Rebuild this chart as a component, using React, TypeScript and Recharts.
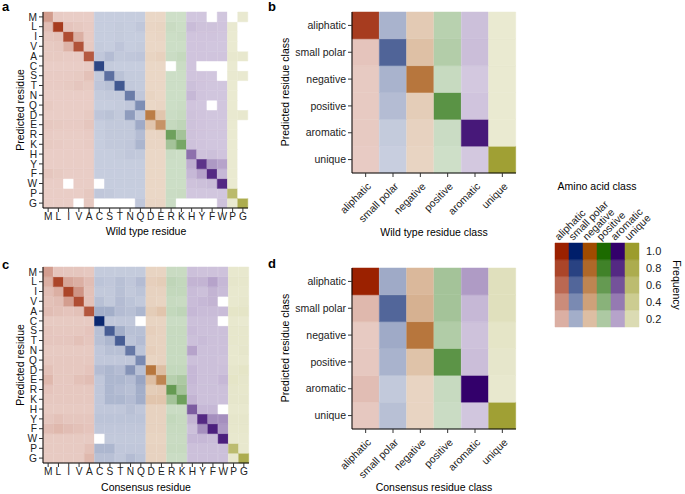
import React from 'react';
import { BarChart, Bar, Cell, XAxis, YAxis } from 'recharts';

const FONT = '"Liberation Sans", Arial, sans-serif';

// residues in plot order and the class each one belongs to
const residues = ['M', 'L', 'I', 'V', 'A', 'C', 'S', 'T', 'N', 'Q', 'D', 'E', 'R', 'K', 'H', 'Y', 'F', 'W', 'P', 'G'];
const residueClass = [0, 0, 0, 0, 0, 1, 1, 1, 1, 1, 2, 2, 3, 3, 4, 4, 4, 4, 5, 5];
const classNames = ['aliphatic', 'small polar', 'negative', 'positive', 'aromatic', 'unique'];
const classColors = ['#9b2100', '#001e6a', '#a04b00', '#1c6a00', '#33006b', '#9c9c2c'];
const legendLevels = [0.2, 0.4, 0.6, 0.8, 1.0];

const N = null;

// rows = predicted residue (top to bottom), cols = wild type residue
const wildTypeFreq = [
  [0.31, 0.04, 0.03, 0.03, 0.03, 0.03, 0.03, 0.03, 0.03, 0.03, 0.03, 0.03, 0.02, 0.02, 0.03, 0.03, N, 0.03, N, 0.03],
  [0.12, 0.85, 0.08, 0.06, 0.04, 0.03, 0.03, 0.04, 0.03, 0.06, 0.04, 0.05, 0.05, 0.03, 0.08, 0.05, 0.05, 0.04, 0.03, N],
  [0.07, 0.09, 0.75, 0.2, 0.04, 0.03, 0.03, 0.04, 0.03, 0.03, 0.03, 0.04, 0.03, 0.04, 0.04, 0.04, 0.04, 0.03, 0.02, N],
  [0.05, 0.06, 0.18, 0.72, 0.05, 0.04, 0.03, 0.07, 0.03, 0.04, 0.03, 0.03, 0.03, 0.03, 0.04, 0.04, 0.03, 0.03, 0.02, N],
  [0.05, 0.05, 0.04, 0.04, 0.68, 0.06, 0.12, 0.05, 0.06, 0.07, 0.05, 0.07, 0.04, 0.07, 0.04, 0.04, 0.04, 0.04, 0.04, 0.04],
  [0.03, 0.03, 0.03, 0.03, 0.04, 0.78, 0.04, 0.03, 0.03, 0.03, 0.03, 0.03, N, 0.04, 0.04, N, N, N, 0.02, N],
  [0.04, 0.04, 0.04, 0.05, 0.1, 0.05, 0.55, 0.09, 0.04, 0.04, 0.03, 0.03, 0.03, 0.03, 0.04, 0.04, 0.03, N, 0.03, 0.03],
  [0.04, 0.04, 0.05, 0.07, 0.05, 0.07, 0.1, 0.68, 0.05, 0.04, 0.03, 0.03, 0.03, 0.03, 0.06, 0.04, 0.03, 0.03, 0.02, N],
  [0.03, 0.03, 0.03, 0.03, 0.03, 0.04, 0.05, 0.05, 0.48, 0.06, 0.05, 0.03, 0.03, 0.03, 0.1, 0.04, 0.03, 0.03, 0.02, N],
  [0.05, 0.03, 0.03, 0.03, 0.03, 0.03, 0.03, 0.04, 0.06, 0.38, 0.03, 0.04, 0.03, 0.04, 0.04, 0.03, N, 0.03, 0.02, N],
  [0.03, 0.03, 0.03, 0.03, 0.05, 0.07, 0.09, 0.05, 0.3, 0.06, 0.65, 0.15, 0.04, 0.06, 0.05, 0.04, 0.03, 0.03, 0.03, 0.04],
  [0.06, 0.05, 0.04, 0.04, 0.07, 0.03, 0.05, 0.05, 0.05, 0.22, 0.15, 0.5, 0.07, 0.1, 0.05, 0.04, 0.03, 0.03, 0.02, N],
  [0.04, 0.03, 0.03, 0.03, 0.04, 0.03, 0.05, 0.05, 0.05, 0.12, 0.04, 0.05, 0.55, 0.25, 0.05, 0.04, 0.03, 0.03, 0.02, N],
  [0.05, 0.04, 0.03, 0.03, 0.04, 0.03, 0.05, 0.05, 0.06, 0.16, 0.04, 0.04, 0.25, 0.5, 0.05, 0.04, 0.03, 0.03, 0.02, N],
  [0.03, 0.03, 0.03, 0.03, 0.03, 0.03, 0.03, 0.04, 0.06, 0.05, 0.03, 0.03, 0.04, 0.03, 0.45, 0.05, 0.06, 0.04, 0.02, N],
  [0.03, 0.03, 0.03, 0.03, 0.03, 0.03, 0.03, 0.03, 0.03, 0.03, 0.03, 0.03, 0.03, 0.03, 0.15, 0.75, 0.25, 0.2, 0.02, N],
  [0.07, 0.05, 0.03, 0.03, 0.03, 0.03, 0.03, 0.03, 0.03, 0.03, 0.03, 0.03, 0.03, 0.03, 0.1, 0.2, 0.8, 0.1, 0.02, N],
  [0.03, 0.03, N, 0.03, 0.03, N, 0.03, 0.03, 0.03, 0.03, 0.03, 0.03, 0.03, 0.03, 0.05, 0.06, 0.08, 0.8, 0.02, N],
  [0.03, 0.03, 0.03, 0.03, 0.06, 0.06, 0.05, 0.03, 0.03, 0.03, 0.03, 0.03, 0.04, 0.05, 0.03, 0.03, 0.03, 0.03, 0.62, N],
  [0.03, 0.03, 0.03, N, 0.06, N, N, N, N, 0.06, 0.04, 0.04, 0.04, N, N, N, N, 0.05, 0.03, 0.8],
];

// rows = predicted residue, cols = consensus residue
const consensusFreq = [
  [0.3, 0.08, 0.07, 0.07, 0.06, 0.04, 0.04, 0.04, 0.04, 0.04, 0.05, 0.05, 0.05, 0.05, 0.06, 0.05, 0.05, 0.05, 0.04, 0.04],
  [0.2, 0.8, 0.25, 0.2, 0.12, 0.08, 0.06, 0.1, 0.06, 0.12, 0.08, 0.1, 0.1, 0.08, 0.12, 0.12, 0.2, 0.1, 0.06, 0.05],
  [0.12, 0.2, 0.8, 0.35, 0.1, 0.05, 0.05, 0.1, 0.05, 0.08, 0.06, 0.06, 0.08, 0.08, 0.08, 0.06, 0.12, 0.08, 0.04, 0.04],
  [0.1, 0.12, 0.3, 0.75, 0.1, 0.1, 0.05, 0.12, 0.08, 0.05, 0.06, 0.05, 0.06, 0.05, 0.08, 0.1, 0.12, N, 0.04, 0.05],
  [0.12, 0.1, 0.08, 0.1, 0.7, 0.2, 0.2, 0.12, 0.1, 0.15, 0.1, 0.15, 0.08, 0.1, 0.1, 0.08, 0.08, 0.08, 0.08, 0.08],
  [0.05, 0.05, 0.05, 0.05, 0.05, 0.95, 0.06, 0.06, 0.06, N, 0.05, 0.05, 0.04, 0.04, 0.06, 0.06, 0.06, N, 0.04, 0.03],
  [0.07, 0.06, 0.06, 0.06, 0.08, 0.1, 0.65, 0.2, 0.1, 0.1, 0.08, 0.06, 0.06, 0.06, 0.08, 0.06, 0.06, 0.06, 0.05, 0.05],
  [0.07, 0.07, 0.07, 0.1, 0.07, 0.1, 0.15, 0.65, 0.08, 0.12, 0.06, 0.06, 0.06, 0.06, 0.06, 0.08, 0.06, 0.06, 0.05, 0.05],
  [0.05, 0.05, 0.05, 0.05, 0.05, 0.06, 0.1, 0.1, 0.5, 0.08, 0.08, 0.06, 0.06, 0.06, 0.2, 0.06, 0.06, 0.06, 0.04, 0.06],
  [0.06, 0.06, 0.06, 0.06, 0.06, 0.06, 0.06, 0.06, 0.06, 0.4, 0.05, 0.06, 0.06, 0.06, 0.06, 0.06, 0.06, 0.05, 0.04, 0.04],
  [0.1, 0.06, 0.06, 0.06, 0.08, 0.12, 0.15, 0.12, 0.35, 0.1, 0.7, 0.2, 0.08, 0.08, 0.1, 0.06, 0.06, 0.06, 0.06, 0.08],
  [0.15, 0.06, 0.06, 0.1, 0.12, 0.06, 0.15, 0.15, 0.12, 0.25, 0.2, 0.6, 0.15, 0.2, 0.1, 0.06, 0.06, 0.1, 0.08, 0.06],
  [0.08, 0.06, 0.06, 0.06, 0.06, 0.06, 0.15, 0.12, 0.1, 0.2, 0.1, 0.12, 0.6, 0.25, 0.08, 0.06, 0.06, 0.06, 0.06, 0.05],
  [0.06, 0.06, 0.06, 0.06, 0.06, 0.06, 0.15, 0.15, 0.12, 0.2, 0.15, 0.15, 0.25, 0.55, 0.12, 0.06, 0.06, 0.06, 0.06, 0.06],
  [0.05, 0.05, 0.05, 0.05, 0.05, 0.06, 0.06, 0.06, 0.1, 0.06, 0.06, 0.06, 0.04, 0.04, 0.55, 0.1, 0.1, N, 0.04, 0.04],
  [0.07, 0.1, 0.07, 0.07, 0.07, 0.08, 0.08, 0.08, 0.08, 0.08, 0.06, 0.06, 0.08, 0.06, 0.12, 0.8, 0.3, 0.3, 0.06, 0.06],
  [0.12, 0.15, 0.12, 0.1, 0.08, 0.06, 0.06, 0.06, 0.06, 0.06, 0.06, 0.06, 0.06, 0.06, 0.06, 0.3, 0.85, 0.25, 0.05, 0.05],
  [0.05, 0.05, 0.05, 0.05, 0.05, N, 0.05, 0.05, 0.05, 0.05, 0.05, 0.05, 0.05, 0.05, 0.1, 0.1, 0.08, 0.85, 0.04, 0.04],
  [0.05, 0.05, 0.05, 0.05, 0.1, 0.15, 0.15, 0.06, 0.06, 0.06, 0.06, 0.06, 0.06, 0.06, 0.06, 0.06, 0.06, 0.06, 0.6, 0.04],
  [0.05, 0.05, 0.05, 0.05, 0.15, 0.1, 0.1, 0.06, 0.12, 0.08, 0.06, 0.06, 0.04, 0.04, 0.06, 0.06, 0.06, 0.06, 0.04, 0.8],
];

// rows = predicted class, cols = wild type class
const wildTypeClassFreq = [
  [0.85, 0.17, 0.12, 0.14, 0.06, 0.02],
  [0.08, 0.61, 0.19, 0.17, 0.07, 0.02],
  [0.05, 0.17, 0.7, 0.06, 0.02, 0.02],
  [0.05, 0.12, 0.1, 0.66, 0.04, 0.02],
  [0.05, 0.04, 0.06, 0.04, 0.88, 0.02],
  [0.04, 0.02, 0.05, 0.02, 0.02, 0.95],
];

// rows = predicted class, cols = consensus class
const consensusClassFreq = [
  [1.0, 0.22, 0.24, 0.25, 0.24, 0.14],
  [0.15, 0.6, 0.29, 0.25, 0.1, 0.14],
  [0.05, 0.22, 0.7, 0.18, 0.05, 0.08],
  [0.06, 0.17, 0.17, 0.65, 0.07, 0.06],
  [0.12, 0.05, 0.05, 0.06, 1.0, 0.04],
  [0.06, 0.1, 0.05, 0.04, 0.03, 0.95],
];

const cellColor = (cls: number, f: number | null) => {
  if (f == null) return '#ffffff';
  const hex = classColors[cls];
  const a = 0.2 + 0.8 * Math.min(1, f);
  const ch = [1, 3, 5].map(i => parseInt(hex.slice(i, i + 2), 16));
  const out = ch.map(v => Math.round(255 - (255 - v) * a));
  return `rgb(${out[0]},${out[1]},${out[2]})`;
};

// angled class labels under panels b and d (anchored at their right end)
const renderRotatedTick = (props: any) => {
  const { x, y, payload } = props;
  const tx = Number(x) + 6;
  const ty = Number(y) + 8;
  return (
    <g key={`rt-${payload.value}`} transform={`translate(${tx} ${ty}) rotate(-45)`}>
      <text x={0} y={0} textAnchor="end" fontSize={10.5} fill="#222" fontFamily={FONT}>
        {payload.value}
      </text>
    </g>
  );
};

const renderLegendTick = (props: any) => {
  const { x, y, payload } = props;
  const tx = Number(x) - 3;
  const ty = Number(y);
  return (
    <g key={`lt-${payload.value}`} transform={`translate(${tx} ${ty}) rotate(-45)`}>
      <text x={0} y={0} textAnchor="start" fontSize={10.5} fill="#222" fontFamily={FONT}>
        {payload.value}
      </text>
    </g>
  );
};

type HeatProps = {
  rowLabels: string[];
  colLabels: string[];
  colClass: number[];
  matrix: (number | null)[][];
  left: number;
  top: number;
  width: number;
  height: number;
  yAxisWidth: number;
  xAxisHeight: number;
  rightMargin: number;
  rotated?: boolean;
};

const Heatmap = ({ rowLabels, colLabels, colClass, matrix, left, top, width, height, yAxisWidth, xAxisHeight, rightMargin, rotated }: HeatProps) => {
  const n = rowLabels.length;
  const data = colLabels.map(name => {
    const o: any = { name };
    rowLabels.forEach((_, k) => (o['r' + k] = 1));
    return o;
  });
  const ticks = rowLabels.map((_, k) => k + 0.5);
  const fs = rotated ? 10.5 : 10.2;
  const tickStyle = { fontSize: fs, fill: '#222', fontFamily: FONT };

  return (
    <div style={{ position: 'absolute', left, top }}>
      <BarChart
        width={width}
        height={height}
        data={data}
        barCategoryGap={0}
        margin={{ top: 12, right: rightMargin, bottom: 0, left: 0 }}
      >
        {rotated ? (
          <XAxis
            dataKey="name"
            interval={0}
            height={xAxisHeight}
            tickSize={4}
            tickMargin={2}
            axisLine={{ stroke: '#000' }}
            tickLine={{ stroke: '#333' }}
            tick={renderRotatedTick}
          />
        ) : (
          <XAxis
            dataKey="name"
            interval={0}
            height={xAxisHeight}
            tickSize={4}
            tickMargin={1}
            axisLine={{ stroke: '#000' }}
            tickLine={{ stroke: '#333' }}
            tick={tickStyle}
          />
        )}
        <YAxis
          type="number"
          domain={[0, n]}
          ticks={ticks}
          interval={0}
          width={yAxisWidth}
          tickSize={4}
          tickMargin={2}
          axisLine={{ stroke: '#000' }}
          tickLine={{ stroke: '#333' }}
          tick={tickStyle}
          tickFormatter={(v: number) => rowLabels[n - 1 - Math.floor(v)]}
        />
        {rowLabels.map((_, k) => {
          const row = n - 1 - k;
          return (
            <Bar key={k} dataKey={'r' + k} stackId="s" isAnimationActive={false}>
              {colLabels.map((_, c) => {
                const fill = cellColor(colClass[c], matrix[row][c]);
                return <Cell key={c} fill={fill} stroke={fill} strokeWidth={0.5} />;
              })}
            </Bar>
          );
        })}
      </BarChart>
    </div>
  );
};

const LegendGrid = () => {
  const data = classNames.map(name => {
    const o: any = { name };
    legendLevels.forEach((_, k) => (o['l' + k] = 1));
    return o;
  });
  return (
    <div style={{ position: 'absolute', left: 540, top: 150 }}>
      <BarChart width={145} height={190} data={data} barCategoryGap={0} margin={{ top: 0, right: 0, bottom: 13, left: 15 }}>
        <XAxis
          dataKey="name"
          orientation="top"
          interval={0}
          height={93}
          tickSize={0}
          tickMargin={2}
          axisLine={false}
          tickLine={false}
          tick={renderLegendTick}
        />
        <YAxis
          type="number"
          orientation="right"
          domain={[0, legendLevels.length]}
          ticks={legendLevels.map((_, k) => k + 0.5)}
          interval={0}
          width={46}
          tickSize={4}
          tickMargin={3}
          axisLine={false}
          tickLine={false}
          tick={{ fontSize: 11, fill: '#222', fontFamily: FONT, textAnchor: 'start' }}
          tickFormatter={(v: number) => legendLevels[Math.floor(v)].toFixed(1)}
        />
        {legendLevels.map((lvl, k) => (
          <Bar key={k} dataKey={'l' + k} stackId="s" isAnimationActive={false}>
            {classNames.map((_, c) => {
              const fill = cellColor(c, lvl);
              return <Cell key={c} fill={fill} stroke={fill} strokeWidth={0.5} />;
            })}
          </Bar>
        ))}
      </BarChart>
    </div>
  );
};

const Title = ({ x, y, children, rotate, size = 10.5, bold = false, anchor = 'middle' }: any) => (
  <text
    x={x}
    y={y}
    dy={rotate ? '0.35em' : 0}
    transform={rotate ? `rotate(${rotate}, ${x}, ${y})` : undefined}
    textAnchor={anchor}
    fontSize={size}
    fontWeight={bold ? 'bold' : 'normal'}
    fill="#000"
    fontFamily={FONT}
  >
    {children}
  </text>
);

const App = () => {
  const classIdx = classNames.map((_, i) => i);
  return (
    <div style={{ position: 'absolute', left: 0, top: 0, width: 685, height: 494, background: '#fff', overflow: 'hidden' }}>
      <Heatmap rowLabels={residues} colLabels={residues} colClass={residueClass} matrix={wildTypeFreq}
        left={0} top={0} width={250} height={240} yAxisWidth={43} xAxisHeight={32} rightMargin={2} />
      <Heatmap rowLabels={residues} colLabels={residues} colClass={residueClass} matrix={consensusFreq}
        left={0} top={255} width={251} height={238} yAxisWidth={43} xAxisHeight={30} rightMargin={2} />
      <Heatmap rowLabels={classNames} colLabels={classNames} colClass={classIdx} matrix={wildTypeClassFreq}
        left={250} top={0} width={270} height={240} yAxisWidth={102} xAxisHeight={67} rightMargin={4} rotated />
      <Heatmap rowLabels={classNames} colLabels={classNames} colClass={classIdx} matrix={consensusClassFreq}
        left={250} top={256} width={270} height={240} yAxisWidth={102} xAxisHeight={67} rightMargin={4} rotated />
      <LegendGrid />
      <svg width={685} height={494} style={{ position: 'absolute', left: 0, top: 0, pointerEvents: 'none' }}>
        <Title x={2} y={11} size={13} bold anchor="start">a</Title>
        <Title x={268} y={11} size={13} bold anchor="start">b</Title>
        <Title x={2} y={269} size={13} bold anchor="start">c</Title>
        <Title x={268} y={268} size={13} bold anchor="start">d</Title>
        <Title x={20} y={110} rotate={-90}>Predicted residue</Title>
        <Title x={20} y={365} rotate={-90}>Predicted residue</Title>
        <Title x={285} y={92} rotate={-90}>Predicted residue class</Title>
        <Title x={285} y={348} rotate={-90}>Predicted residue class</Title>
        <Title x={146} y={235}>Wild type residue</Title>
        <Title x={146} y={491}>Consensus residue</Title>
        <Title x={434} y={236}>Wild type residue class</Title>
        <Title x={434} y={491}>Consensus residue class</Title>
        <Title x={597} y={190}>Amino acid class</Title>
        <Title x={677} y={285} rotate={90}>Frequency</Title>
      </svg>
    </div>
  );
};

export default App;
